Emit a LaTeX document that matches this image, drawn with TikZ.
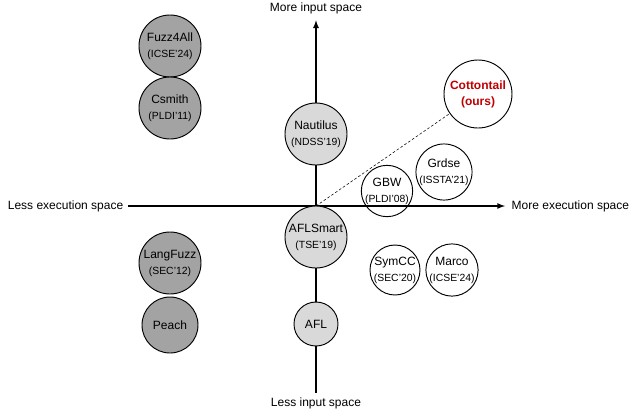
\documentclass[tikz,border=0pt]{standalone}
\usepackage{fontspec}
\setmainfont{Liberation Sans}
\usepackage{tikz}
\definecolor{darkgrey}{HTML}{A3A3A3}
\definecolor{lightgrey}{HTML}{D9D9D9}
\definecolor{ours}{HTML}{C00000}
\newcommand{\venue}[1]{{\fontsize{7.8}{9}\selectfont #1}}

\begin{document}
\begin{tikzpicture}[x=0.75pt,y=-0.75pt,
  tool/.style={circle,draw,line width=0.7pt,inner sep=0pt,align=center,font=\fontsize{9}{12}\selectfont},
  old/.style={tool,fill=darkgrey},
  mid/.style={tool,fill=lightgrey},
  axislabel/.style={font=\fontsize{9}{11}\selectfont}]
\useasboundingbox (0,0) rectangle (629,412);
\node[axislabel] (morein) at (316,8) {More input space};
\node[axislabel] (lessin) at (316,403) {Less input space};
\node[axislabel, anchor=east] (lessex) at (128,206) {Less execution space};
\node[axislabel, anchor=west] (moreex) at (507,206) {More execution space};
\coordinate (origin) at (316,206);
\draw[line width=1pt, -latex, shorten >=1.5pt] (lessin.north) -- (morein.south);
\draw[line width=1pt, -latex, shorten >=1.5pt] (lessex.east) -- (moreex.west);
\node[old, minimum size=46.5pt] (fuzz) at (170,46) {Fuzz4All\\\venue{(ICSE'24)}};
\node[old, minimum size=46.5pt] (csmith) at (170,108) {Csmith\\\venue{(PLDI'11)}};
\node[old, minimum size=46.5pt] (langfuzz) at (170,263) {LangFuzz\\\venue{(SEC'12)}};
\node[old, minimum size=42pt] (peach) at (170,325) {Peach};
\node[mid, minimum size=46.5pt] (nautilus) at (316,134) {Nautilus\\\venue{(NDSS'19)}};
\node[mid, minimum size=46.5pt] (aflsmart) at (316,237) {AFLSmart\\\venue{(TSE'19)}};
\node[mid, minimum size=33pt] (afl) at (316,324) {AFL};
\node[tool, fill=white, minimum size=51pt, text=ours, font=\fontsize{9}{12}\selectfont\bfseries] (cotton) at (478,94) {Cottontail\\(ours)};
\node[tool, minimum size=37.5pt] (gbw) at (387,191) {GBW\\\venue{(PLDI'08)}};
\node[tool, minimum size=39pt] (grdse) at (444,172) {Grdse\\\venue{(ISSTA'21)}};
\node[tool, minimum size=37.5pt] (symcc) at (395,270) {SymCC\\\venue{(SEC'20)}};
\node[tool, minimum size=37.5pt] (marco) at (452,270) {Marco\\\venue{(ICSE'24)}};
\draw[dash pattern=on 2pt off 1.5pt] (origin) -- (cotton);
\end{tikzpicture}
\end{document}
